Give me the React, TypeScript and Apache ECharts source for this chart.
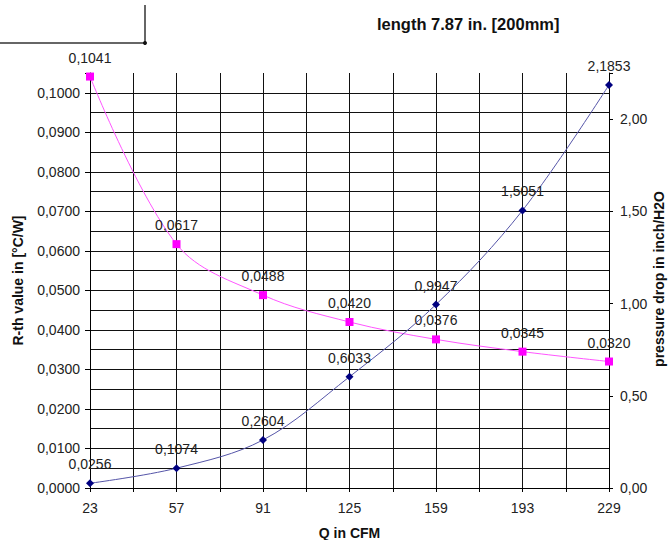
import React, { useEffect, useRef } from "react";
import * as echarts from "echarts";

const categories = ["23", "57", "91", "125", "159", "193", "229"];
const rthValues = [0.1041, 0.0617, 0.0488, 0.042, 0.0376, 0.0345, 0.032];
const pressureValues = [0.0256, 0.1074, 0.2604, 0.6033, 0.9947, 1.5051, 2.1853];

const FONT = "Liberation Sans, Arial, sans-serif";

export default function App() {
  const ref = useRef<HTMLDivElement>(null);
  useEffect(() => {
    if (!ref.current) return;
    const chart = echarts.init(ref.current, undefined, { renderer: "svg" });
    const rthData = rthValues.map((v, i) => [i, v]);
    const pData = pressureValues.map((v, i) => [i, v]);
    chart.setOption({
      animation: false,
      textStyle: { fontFamily: FONT },
      title: {
        text: "length 7.87 in. [200mm]",
        left: 372,
        top: 10,
        textStyle: { fontFamily: FONT, fontSize: 16.5, fontWeight: "bold", color: "#111" },
      },
      graphic: [
        { type: "line", shape: { x1: 0, y1: 43, x2: 145, y2: 43 }, style: { stroke: "#666", lineWidth: 2 } },
        { type: "line", shape: { x1: 145, y1: 5, x2: 145, y2: 43 }, style: { stroke: "#333", lineWidth: 1.5 } },
        { type: "circle", shape: { cx: 145, cy: 43, r: 2 }, style: { fill: "#111" } },
        {
          type: "text",
          x: 659,
          y: 279,
          rotation: Math.PI / 2,
          style: {
            text: "pressure drop in inch/H2O",
            font: "bold 14px " + FONT,
            fill: "#111",
            align: "center",
            verticalAlign: "middle",
          },
        },
      ],
      grid: { left: 90, right: 60, top: 73, bottom: 52, containLabel: false, outerBoundsMode: "none" },
      xAxis: {
        type: "value",
        min: 0,
        max: 6,
        interval: 0.5,
        name: "Q in CFM",
        nameLocation: "middle",
        nameGap: 38,
        nameTextStyle: { fontFamily: FONT, fontSize: 14, fontWeight: "bold", color: "#111" },
        axisLine: { show: true, onZero: false, lineStyle: { color: "#000", width: 1 } },
        axisTick: { show: true, length: 4, lineStyle: { color: "#000" } },
        axisLabel: {
          fontFamily: FONT,
          fontSize: 14,
          color: "#222",
          margin: 13,
          formatter: (v: number) => (Number.isInteger(v) ? categories[v] : ""),
        },
        splitLine: { show: true, lineStyle: { color: "#111", width: 1 } },
      },
      yAxis: [
        {
          type: "value",
          min: 0,
          max: 0.105,
          interval: 0.01,
          name: "R-th value in [°C/W]",
          nameLocation: "middle",
          nameRotate: 90,
          nameGap: 65,
          nameTextStyle: { fontFamily: FONT, fontSize: 14, fontWeight: "bold", color: "#111" },
          axisLine: { show: true, lineStyle: { color: "#000", width: 1 } },
          axisTick: { show: true, length: 5, lineStyle: { color: "#000" } },
          axisLabel: {
            fontFamily: FONT,
            fontSize: 14,
            color: "#222",
            margin: 10,
            formatter: (v: number) => (v > 0.1001 ? "" : v.toFixed(4).replace(".", ",")),
          },
          splitLine: { show: true, showMaxLine: false, lineStyle: { color: "#111", width: 1 } },
          minorTick: { show: false, splitNumber: 2 },
          minorSplitLine: { show: true, lineStyle: { color: "#111", width: 1 } },
        },
        {
          type: "value",
          min: 0,
          max: 2.25,
          interval: 0.5,
          axisLine: { show: true, lineStyle: { color: "#000", width: 1 } },
          axisTick: { show: true, length: 4, lineStyle: { color: "#000" } },
          axisLabel: {
            fontFamily: FONT,
            fontSize: 14,
            color: "#222",
            margin: 11,
            formatter: (v: number) => (v > 2.2 ? "" : v.toFixed(2).replace(".", ",")),
          },
          splitLine: { show: false },
        },
      ],
      series: [
        {
          name: "R-th",
          type: "line",
          yAxisIndex: 0,
          data: rthData,
          smooth: 0.35,
          symbol: "rect",
          symbolSize: 8,
          itemStyle: { color: "#ff00ff" },
          lineStyle: { color: "#ff55ff", width: 1 },
          label: {
            show: true,
            position: "top",
            distance: 8,
            fontFamily: FONT,
            fontSize: 14,
            color: "#222",
            formatter: (p: any) => p.value[1].toFixed(4).replace(".", ","),
          },
          z: 3,
        },
        {
          name: "pressure",
          type: "line",
          yAxisIndex: 1,
          data: pData,
          smooth: 0.35,
          symbol: "diamond",
          symbolSize: 8,
          itemStyle: { color: "#000080" },
          lineStyle: { color: "#5555a8", width: 1 },
          label: {
            show: true,
            position: "top",
            distance: 8,
            fontFamily: FONT,
            fontSize: 14,
            color: "#222",
            formatter: (p: any) => p.value[1].toFixed(4).replace(".", ","),
          },
          z: 4,
        },
      ],
    });
    return () => chart.dispose();
  }, []);
  return <div ref={ref} style={{ width: 669, height: 540, position: "absolute", left: 0, top: 0 }} />;
}
